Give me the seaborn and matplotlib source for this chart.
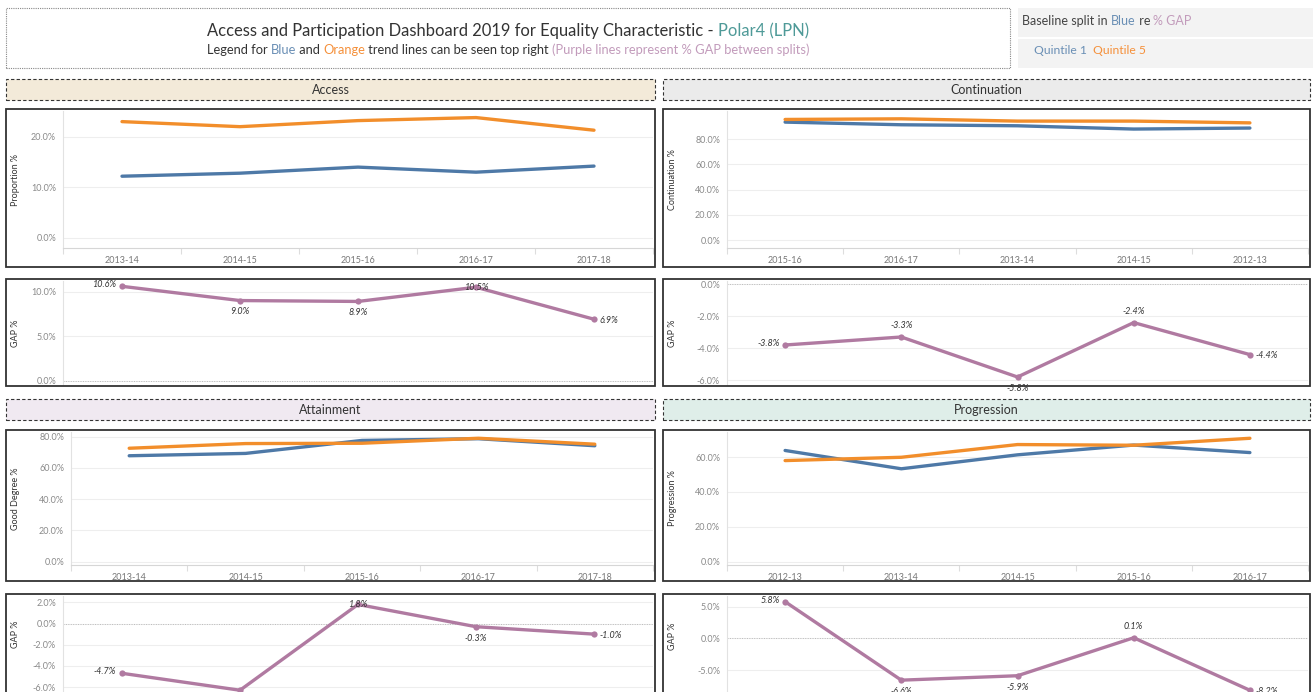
import numpy as np
import pandas as pd
import seaborn as sns
from matplotlib import pyplot as plt
from matplotlib.patches import Rectangle

# ---- data ----
access_years = ["2013-14", "2014-15", "2015-16", "2016-17", "2017-18"]
access_q1 = [12.2, 12.8, 14.0, 13.0, 14.2]
access_q5 = [23.0, 22.0, 23.2, 23.8, 21.3]
access_gap = [10.6, 9.0, 8.9, 10.5, 6.9]

cont_years = ["2015-16", "2016-17", "2013-14", "2014-15", "2012-13"]
cont_q1 = [93.4, 91.3, 90.5, 87.9, 88.7]
cont_q5 = [95.5, 96.0, 94.2, 94.2, 92.8]
cont_gap = [-3.8, -3.3, -5.8, -2.4, -4.4]

att_years = ["2013-14", "2014-15", "2015-16", "2016-17", "2017-18"]
att_q1 = [67.8, 69.3, 77.6, 78.7, 74.2]
att_q5 = [72.6, 75.6, 75.8, 79.0, 75.2]
att_gap = [-4.7, -6.3, 1.8, -0.3, -1.0]

prog_years = ["2012-13", "2013-14", "2014-15", "2015-16", "2016-17"]
prog_q1 = [63.8, 53.3, 61.3, 66.9, 62.6]
prog_q5 = [58.0, 59.9, 67.2, 66.8, 70.8]
prog_gap = [5.8, -6.6, -5.9, 0.1, -8.2]

BLUE = "#4e79a7"
ORANGE = "#f28e2b"
PURPLE = "#b07aa1"
DARK = "#333333"

sns.set_theme(style="white")
plt.rcParams['font.family'] = ['Lato', 'DejaVu Sans']

W, H = 1313, 692
fig = plt.figure(figsize=(W / 100, H / 100), dpi=100)
renderer = fig.canvas.get_renderer()


def box(l, t, r, b):
    return [l / W, 1 - b / H, (r - l) / W, (b - t) / H]


def rect(l, t, r, b, **kw):
    fig.patches.append(Rectangle((l / W, 1 - b / H), (r - l) / W, (b - t) / H,
                                 transform=fig.transFigure, **kw))


def seg_width(s, size):
    t1 = fig.text(0, 0, "x" + s + "x", fontsize=size)
    t2 = fig.text(0, 0, "xx", fontsize=size)
    w = t1.get_window_extent(renderer).width - t2.get_window_extent(renderer).width
    t1.remove()
    t2.remove()
    return w


def rich_text(x, y, parts, size, ha="center"):
    widths = [seg_width(s, size) for s, c in parts]
    x0 = x - sum(widths) / 2 if ha == "center" else x
    for (s, c), w in zip(parts, widths):
        fig.text(x0 / W, 1 - y / H, s, color=c, fontsize=size, ha="left", va="center")
        x0 += w


def style_axis(ax, plot, years, ylim, yticks, ylabel, show_x, label_x, label_y=None):
    n = len(years)
    l, t, r, b = plot
    ax.set_xlim(-0.5, n - 0.5)
    ax.set_ylim(*ylim)
    ax.set_yticks(yticks)
    ax.set_yticklabels([f"{v:.1f}%" for v in yticks])
    ax.grid(axis="y", color="#eeeeee", lw=0.8)
    ax.grid(axis="x", visible=False)
    ax.set_axisbelow(True)
    for s in ["top", "right"]:
        ax.spines[s].set_visible(False)
    ax.spines["left"].set_color("#e2e2e2")
    ax.spines["left"].set_linewidth(0.8)
    ax.spines["bottom"].set_color("#d6d6d6")
    ax.spines["bottom"].set_linewidth(0.8)
    ax.tick_params(axis="y", length=0, labelsize=6.5, labelcolor="#8a8a8a", pad=5)
    ax.set_xticks(range(n))
    if show_x:
        ax.set_xticklabels(years)
        ax.set_xticks(np.arange(-0.5, n), minor=True)
        ax.tick_params(axis="x", which="major", length=0, labelsize=6.5,
                       labelcolor="#777777", pad=6)
        ax.tick_params(axis="x", which="minor", length=4, color="#dddddd",
                       width=0.8, bottom=True)
    else:
        ax.set_xticklabels([])
        ax.tick_params(axis="x", length=0)
        ax.spines["bottom"].set_visible(False)
    ax.set_xlabel("")
    ax.set_ylabel(ylabel, fontsize=6.5, color=DARK)
    ly = 0.5 if label_y is None else (b - label_y) / (b - t)
    ax.yaxis.set_label_coords((label_x - l) / (r - l), ly)


def trend_panel(outer, plot, label_x, years, q1, q5, ylim, yticks, ylabel):
    rect(*outer, fill=False, ec=DARK, lw=1.3)
    ax = fig.add_axes(box(*plot))
    df = pd.DataFrame({"pos": range(len(years)), "Quintile 1": q1, "Quintile 5": q5})
    df = df.melt("pos", var_name="split", value_name="value")
    sns.lineplot(data=df, x="pos", y="value", hue="split",
                 palette={"Quintile 1": BLUE, "Quintile 5": ORANGE},
                 lw=2.4, legend=False, ax=ax)
    style_axis(ax, plot, years, ylim, yticks, ylabel, True, label_x)
    return ax


def gap_panel(outer, plot, label_x, years, gap, ylim, yticks, places, label_y=None):
    rect(*outer, fill=False, ec=DARK, lw=1.3)
    ax = fig.add_axes(box(*plot))
    df = pd.DataFrame({"pos": range(len(years)), "gap": gap})
    ax.axhline(0, color="#bbbbbb", lw=0.7, ls=(0, (1, 1.5)), zorder=1)
    sns.lineplot(data=df, x="pos", y="gap", color=PURPLE, lw=2.4, marker="o",
                 markersize=4.5, markeredgewidth=0, ax=ax)
    style_axis(ax, plot, years, ylim, yticks, "GAP %", False, label_x, label_y)
    offs = {"left": ((-4, 1), "right", "center"),
            "right": ((4, -1), "left", "center"),
            "above": ((0, 5), "center", "bottom"),
            "below": ((0, -5), "center", "top"),
            "center": ((0, 0), "center", "center")}
    for i, (v, p) in enumerate(zip(gap, places)):
        xy, ha, va = offs[p]
        ax.annotate(f"{v:.1f}%", (i, v), xytext=xy, textcoords="offset points",
                    ha=ha, va=va, fontsize=6.5, style="italic", color=DARK,
                    annotation_clip=False)
    return ax


# ---- header ----
rect(6, 8, 1010, 68, fill=False, ec="#888888", lw=0.8, ls=(0, (1, 1)))
rich_text(508, 31, [("Access and Participation Dashboard 2019 for Equality Characteristic - ", DARK),
                    ("Polar4 (LPN)", "#4f9a98")], 11.9)
rich_text(508, 50, [("Legend for ", DARK), ("Blue", "#6a8fb5"), (" and ", DARK),
                    ("Orange", "#f5903a"), (" trend lines can be seen top right ", DARK),
                    ("(Purple lines represent % GAP between splits)", "#c29bbb")], 9.3)
rect(1018, 8, 1313, 37, fc="#f3f3f3", ec="none")
rect(1018, 39, 1313, 68, fc="#f3f3f3", ec="none")
rich_text(1022, 21, [("Baseline split in ", "#444444"), ("Blue", "#6a8fb5"), (" re ", "#444444"),
                     ("% GAP", "#c29bbb")], 9, ha="left")
rich_text(1034, 50, [("Quintile 1", "#6a8fb5"), ("  ", DARK), ("Quintile 5", "#f5903a")], 8.7, ha="left")

# ---- section headers ----
sections = [((6, 79, 655, 100), "#f3ead9", "Access"),
            ((663, 79, 1310, 100), "#ebebeb", "Continuation"),
            ((6, 399, 655, 420), "#f0e9f1", "Attainment"),
            ((663, 399, 1310, 420), "#dfeee9", "Progression")]
for (l, t, r, b), fc, name in sections:
    rect(l, t, r, b, fc=fc, ec=DARK, lw=0.8, ls=(0, (3, 2)))
    fig.text((l + r) / 2 / W, 1 - (t + b) / 2 / H, name, ha="center", va="center",
             fontsize=9, color=DARK)

# ---- trend charts ----
trend_panel((6, 109, 655, 267), (63, 111, 653, 248), 20, access_years, access_q1, access_q5,
            (-2.0, 25.1), [0, 10, 20], "Proportion %")
trend_panel((663, 109, 1310, 267), (727, 111, 1308, 248), 677, cont_years, cont_q1, cont_q5,
            (-6.3, 102.2), [0, 20, 40, 60, 80], "Continuation %")
trend_panel((6, 430, 655, 581), (71, 432, 653, 565), 20, att_years, att_q1, att_q5,
            (-2.1, 83), [0, 20, 40, 60, 80], "Good Degree %")
trend_panel((663, 430, 1310, 581), (727, 432, 1308, 565), 677, prog_years, prog_q1, prog_q5,
            (-1.9, 74.4), [0, 20, 40, 60], "Progression %")

# ---- gap charts ----
gap_panel((6, 279, 655, 386), (63, 281, 653, 385), 20, access_years, access_gap,
          (-0.5, 11.2), [0, 5, 10], ["left", "below", "below", "center", "right"])
gap_panel((663, 279, 1310, 386), (727, 281, 1308, 385), 677, cont_years, cont_gap,
          (-6.3, 0.2), [-6, -4, -2, 0], ["left", "above", "below", "above", "right"])
gap_panel((6, 594, 655, 760), (63, 596, 653, 758), 20, att_years, att_gap,
          (-12.7, 2.6), [-6, -4, -2, 0, 2], ["left", "below", "center", "below", "right"],
          label_y=634)
gap_panel((663, 594, 1310, 760), (727, 596, 1308, 758), 677, prog_years, prog_gap,
          (-18.9, 6.7), [-5, 0, 5], ["left", "below", "below", "above", "right"],
          label_y=636)

fig.savefig("out.png", dpi=100)
